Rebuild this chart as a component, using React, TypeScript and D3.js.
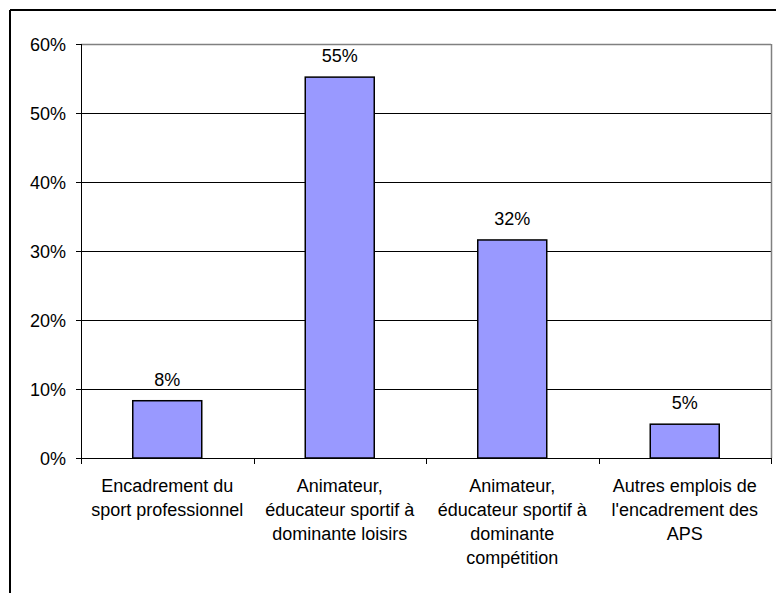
import React from "react";
import * as d3 from "d3";

const categories: string[][] = [
  ["Encadrement du", "sport professionnel"],
  ["Animateur,", "éducateur sportif à", "dominante loisirs"],
  ["Animateur,", "éducateur sportif à", "dominante", "compétition"],
  ["Autres emplois de", "l'encadrement des", "APS"],
];
const values: number[] = [0.083, 0.552, 0.316, 0.049];
const valueLabels: string[] = ["8%", "55%", "32%", "5%"];
const yTicks: number[] = [0, 0.1, 0.2, 0.3, 0.4, 0.5, 0.6];

const W = 776;
const H = 593;
const left = 81;
const right = 771;
const top = 44;
const bottom = 458;
const font = "'Liberation Sans', Arial, sans-serif";
const fs = 18;

export default function App() {
  const x = d3
    .scaleBand<number>()
    .domain(d3.range(categories.length))
    .range([left, right])
    .paddingInner(0.6)
    .paddingOuter(0.3);
  const xOuter = d3.scaleBand<number>().domain(d3.range(categories.length)).range([left, right]);
  const y = d3.scaleLinear().domain([0, 0.6]).range([bottom, top]);
  const pct = d3.format(".0%");
  const boundaries = d3.range(categories.length + 1).map((i) => left + i * xOuter.step());

  return (
    <svg width={W} height={H} style={{ position: "absolute", left: 0, top: 0 }}>
      <rect x={0} y={0} width={W} height={H} fill="#fff" />
      {/* outer chart border */}
      <line x1={10} y1={10} x2={W + 5} y2={10} stroke="#000" strokeWidth={2} />
      <line x1={10} y1={10} x2={10} y2={H + 5} stroke="#000" strokeWidth={2} />
      {/* gridlines */}
      {yTicks.slice(1, -1).map((t) => (
        <line key={t} x1={left} x2={right} y1={Math.round(y(t)) + 0.5} y2={Math.round(y(t)) + 0.5} stroke="#000" strokeWidth={1} />
      ))}
      {/* plot area border top/right */}
      <line x1={left} x2={right} y1={y(0.6) + 0.5} y2={y(0.6) + 0.5} stroke="#808080" strokeWidth={1.5} />
      <line x1={right + 0.5} x2={right + 0.5} y1={top} y2={bottom} stroke="#808080" strokeWidth={1.5} />
      {/* bars */}
      {values.map((v, i) => (
        <rect
          key={i}
          x={x(i)!}
          y={y(v)}
          width={x.bandwidth()}
          height={bottom - y(v)}
          fill="#9999FF"
          stroke="#000"
          strokeWidth={1.5}
        />
      ))}
      {/* value labels */}
      {values.map((v, i) => (
        <text
          key={i}
          x={x(i)! + x.bandwidth() / 2}
          y={y(v) - 15}
          textAnchor="middle"
          fontFamily={font}
          fontSize={fs}
          fill="#000"
        >
          {valueLabels[i]}
        </text>
      ))}
      {/* y axis */}
      <line x1={left + 0.5} x2={left + 0.5} y1={top} y2={bottom} stroke="#000" strokeWidth={1} />
      {yTicks.map((t) => (
        <g key={t}>
          <line x1={left - 5} x2={left} y1={Math.round(y(t)) + 0.5} y2={Math.round(y(t)) + 0.5} stroke="#000" strokeWidth={1} />
          <text x={66} y={y(t) + 7} textAnchor="end" fontFamily={font} fontSize={fs} fill="#000">
            {pct(t)}
          </text>
        </g>
      ))}
      {/* x axis */}
      <line x1={left} x2={right + 1} y1={bottom + 0.5} y2={bottom + 0.5} stroke="#000" strokeWidth={1} />
      {boundaries.map((b, i) => (
        <line key={i} x1={Math.round(b) + 0.5} x2={Math.round(b) + 0.5} y1={bottom} y2={bottom + 6} stroke="#000" strokeWidth={1} />
      ))}
      {categories.map((lines, i) => (
        <text key={i} textAnchor="middle" fontFamily={font} fontSize={fs} fill="#000">
          {lines.map((l, j) => (
            <tspan key={j} x={xOuter(i)! + xOuter.bandwidth() / 2} y={492 + j * 24}>
              {l}
            </tspan>
          ))}
        </text>
      ))}
    </svg>
  );
}
